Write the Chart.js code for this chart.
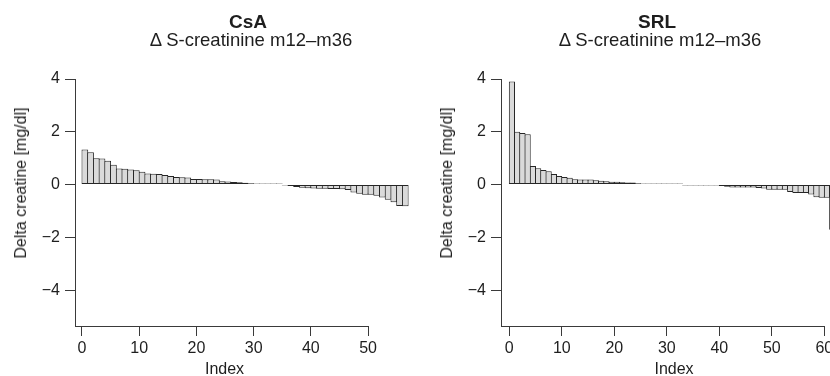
<!DOCTYPE html>
<html><head><meta charset="utf-8">
<script src="https://cdn.jsdelivr.net/npm/chart.js@4.4.1/dist/chart.umd.min.js"></script>
<style>
html,body{margin:0;padding:0;background:#fff;overflow:hidden;}
#wrap{position:relative;width:830px;height:376px;overflow:hidden;font-family:"Liberation Sans",Arial,sans-serif;color:#1e1e1e;}
canvas{position:absolute;top:0;}
.t{position:absolute;white-space:nowrap;transform:translateX(-50%);line-height:1;}
.main{font-weight:bold;font-size:19px;}
.sub{font-size:18.5px;}
.xl{font-size:16px;}
.yl{position:absolute;white-space:nowrap;font-size:16px;line-height:1;transform:translate(-50%,-50%) rotate(-90deg);}
</style></head><body>
<div id="wrap">
<canvas id="c1" width="415" height="376" style="left:0"></canvas>
<canvas id="c2" width="415" height="376" style="left:415px"></canvas>
<div class="t main" style="left:248px;top:12px">CsA</div>
<div class="t sub" style="left:251px;top:31px">Δ S-creatinine m12–m36</div>
<div class="t main" style="left:657px;top:12px">SRL</div>
<div class="t sub" style="left:660px;top:31px">Δ S-creatinine m12–m36</div>
<div class="t xl" style="left:224.5px;top:361px">Index</div>
<div class="t xl" style="left:674px;top:361px">Index</div>
<div class="yl" style="left:20.5px;top:183px">Delta creatine [mg/dl]</div>
<div class="yl" style="left:446.5px;top:183px">Delta creatine [mg/dl]</div>
</div>
<script>
const csaValues = [1.33,1.22,1.00,0.99,0.90,0.75,0.61,0.60,0.57,0.54,
  0.49,0.42,0.41,0.40,0.36,0.32,0.29,0.28,0.27,0.21,
  0.21,0.20,0.20,0.19,0.13,0.12,0.10,0.09,0.07,0.05,
  0.03,0.02,0.01,0.01,0.01,-0.01,-0.05,-0.09,-0.12,-0.14,
  -0.15,-0.16,-0.16,-0.17,-0.17,-0.18,-0.21,-0.30,-0.35,-0.39,
  -0.39,-0.42,-0.49,-0.58,-0.67,-0.81,-0.82];
const srlValues = [3.91,2.00,1.95,1.91,0.70,0.62,0.55,0.50,0.40,0.32,
  0.29,0.26,0.20,0.19,0.19,0.19,0.16,0.14,0.13,0.11,
  0.11,0.09,0.08,0.08,0.05,0.04,0.03,0.02,0.01,0.01,
  0.01,0.01,0.01,-0.01,-0.01,-0.01,-0.02,-0.02,-0.03,-0.04,
  -0.05,-0.08,-0.11,-0.11,-0.11,-0.11,-0.11,-0.13,-0.15,-0.20,
  -0.20,-0.20,-0.20,-0.28,-0.32,-0.32,-0.32,-0.38,-0.48,-0.50,
  -0.50,-1.71];
const csaTicksX = [0,10,20,30,40,50];
const srlTicksX = [0,10,20,30,40,50,60];
const yTicks = [4,2,0,-2,-4];

Chart.defaults.font.family = '"Liberation Sans", Arial, sans-serif';
Chart.defaults.color = '#1e1e1e';

const axisColor = '#3a3a3a';

const bottomLine = {
  id: 'bottomLine',
  afterDraw(chart) {
    const x = chart.scales.x, a = chart.chartArea, ctx = chart.ctx;
    const ticks = x.ticks;
    const last = ticks[ticks.length - 1].value;
    ctx.save();
    ctx.strokeStyle = axisColor;
    ctx.lineWidth = 1;
    ctx.beginPath();
    ctx.moveTo(a.left, Math.round(a.bottom) + 0.5);
    ctx.lineTo(Math.min(x.getPixelForValue(last) + 0.5, a.right), Math.round(a.bottom) + 0.5);
    ctx.stroke();
    ctx.restore();
  }
};

function makeChart(id, values, xTicks, xMin, xMax, yWidth) {
  const data = values.map((v, i) => ({x: i + 0.5, y: v}));
  return new Chart(document.getElementById(id), {
    type: 'bar',
    data: {datasets: [{
      data: data,
      backgroundColor: '#dadada',
      borderColor: '#262626',
      borderWidth: 1,
      borderSkipped: false,
      minBarLength: 1,
      barPercentage: 1.17,
      categoryPercentage: 1.0
    }]},
    options: {
      responsive: false,
      animation: false,
      devicePixelRatio: 1,
      layout: {padding: {top: 79, left: 0, right: 0, bottom: 0}},
      plugins: {legend: {display: false}, tooltip: {enabled: false}, title: {display: false}},
      scales: {
        x: {
          type: 'linear',
          min: xMin, max: xMax,
          offset: false,
          afterBuildTicks: s => { s.ticks = xTicks.map(v => ({value: v})); },
          afterFit: s => { s.height = 50; s.paddingLeft = 0; s.paddingRight = 0; },
          grid: {display: true, drawOnChartArea: false, drawTicks: true, tickLength: 10, color: axisColor, offset: false},
          border: {display: false},
          ticks: {font: {size: 16}, padding: 3, maxRotation: 0, autoSkip: false, color: '#1e1e1e'}
        },
        y: {
          min: -5.36, max: 4,
          afterBuildTicks: s => { s.ticks = yTicks.map(v => ({value: v})); },
          afterFit: s => { s.width = yWidth; s.paddingTop = 0; s.paddingBottom = 0; },
          grid: {display: true, drawOnChartArea: false, drawTicks: true, tickLength: 10, color: axisColor},
          border: {display: true, color: axisColor, width: 1},
          ticks: {font: {size: 16}, padding: 5, color: '#1e1e1e',
            callback: v => (v < 0 ? '\u2212' + Math.abs(v) : String(v))}
        }
      }
    },
    plugins: [bottomLine]
  });
}

makeChart('c1', csaValues, csaTicksX, -1.22, 58.2, 75);
makeChart('c2', srlValues, srlTicksX, -1.58, 61.08, 86);
</script>
</body></html>
